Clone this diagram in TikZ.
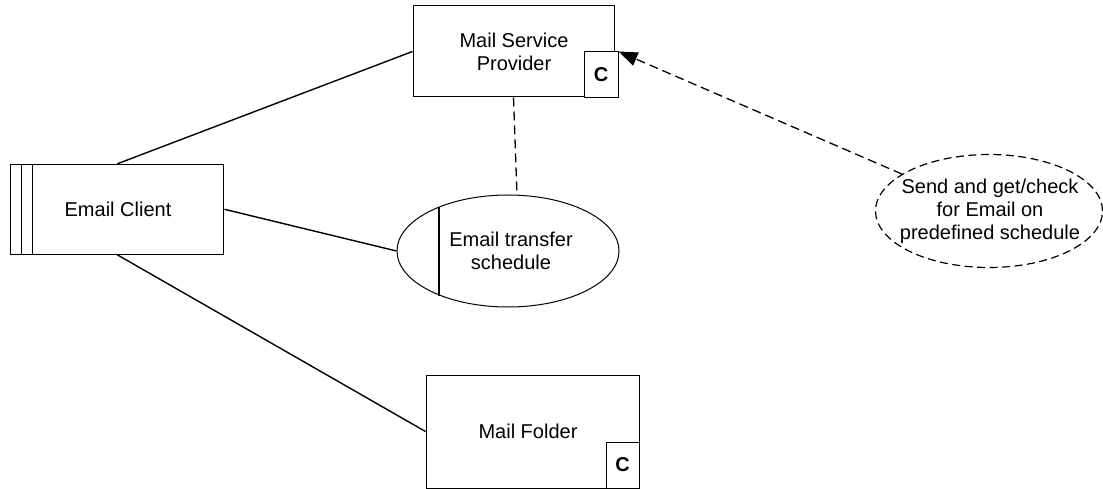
\documentclass[tikz,border=0pt]{standalone}
\usepackage{fontspec}
\setmainfont{Liberation Sans}
\usetikzlibrary{shapes.geometric,arrows.meta}
\begin{document}
\begin{tikzpicture}[x=1pt,y=-1pt,
  txt/.style={font=\fontsize{20}{23}\selectfont, align=center},
  box/.style={draw, rectangle, inner sep=0pt, line width=1pt},
  cbox/.style={draw, rectangle, inner sep=0pt, line width=1pt, minimum width=34pt, minimum height=46pt, fill=white, font=\fontsize{20}{22}\selectfont\bfseries},
  oval/.style={ellipse, draw, inner sep=0pt, line width=1pt},
  conn/.style={line width=1.4pt},
  dashconn/.style={line width=1.3pt, dash pattern=on 9pt off 5pt}]
\useasboundingbox (0,0) rectangle (1103,489);
% nodes
\node[box, minimum width=201pt, minimum height=91pt] (msp) at (513.5,51.5) {};
\node[txt] (msptxt) at (514,51.5) {Mail Service\\Provider};
\node[cbox] (mspc) at (601,75) {C};
\node[box, minimum width=213.3pt, minimum height=90pt] (ec) at (117.3,209.3) {};
\node[txt] (ectxt) at (118,209.3) {Email Client};
\draw[line width=1pt] ([xshift=11.6pt]ec.north west) coordinate (ecl1) -- ([xshift=11.6pt]ec.south west);
\draw[line width=1pt] ([xshift=22pt]ec.north west) coordinate (ecl2) -- ([xshift=22pt]ec.south west);
\node[oval, minimum width=222pt, minimum height=112pt] (ts) at (508,251) {};
\node[txt] (tstxt) at (511,251) {Email transfer\\schedule};
\draw[line width=1.6pt] (439,207) coordinate (tsl1) -- (439,296) coordinate (tsl2);
\node[box, minimum width=213pt, minimum height=113pt] (mf) at (532.5,431.5) {};
\node[txt] (mftxt) at (528,431.5) {Mail Folder};
\node[cbox, minimum width=33pt] (mfc) at (622.5,465) {C};
\node[oval, line width=1.2pt, dash pattern=on 8pt off 4.5pt, minimum width=227pt, minimum height=113pt] (send) at (989,211) {};
\node[txt] (sendtxt) at (990,211) {Send and get/check\\for Email on\\predefined schedule};
% connectors
\draw[conn] (ec.north) -- (msp.west);
\draw[conn] (ec.east) -- (ts.west);
\draw[conn] (ec.south) -- (mf.west);
\draw[dashconn] (msp.south) -- ([xshift=9pt]ts.north);
\draw[dashconn, -{Triangle[length=19pt,width=14pt]}] (send.157) -- (mspc.north east);
\end{tikzpicture}
\end{document}
